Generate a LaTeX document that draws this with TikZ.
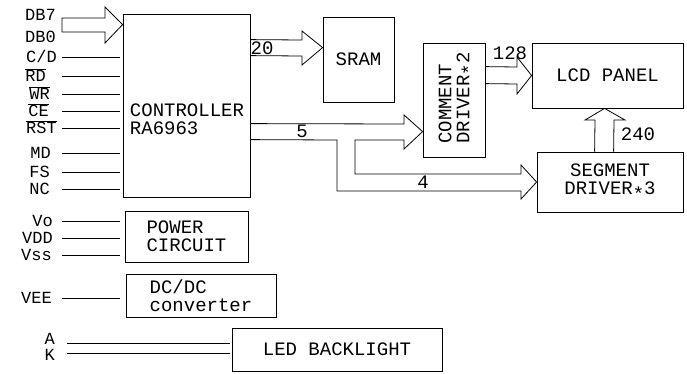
\documentclass[tikz,border=0pt]{standalone}
\usepackage{fontspec}
\setmainfont{Liberation Mono}
\usetikzlibrary{calc}
\newcommand{\ovl}[1]{$\overline{\mbox{#1}}$}
\newcommand{\midstar}{\raisebox{-0.6ex}{*}}
\tikzset{
  blk/.style={draw, line width=0.8pt, inner sep=0pt},
  pin/.style={anchor=east, inner sep=0pt, text height=11pt, text depth=0pt,
    font=\fontsize{17}{17}\selectfont},
  wire/.style={line width=0.8pt},
  bus/.style={line width=0.8pt, line join=miter},
}
\begin{document}
\begin{tikzpicture}[x=1pt, y=-1pt, font=\fontsize{19}{18}\selectfont]
\useasboundingbox (0,0) rectangle (687,373);
% blocks
\node[blk, minimum width=127pt, minimum height=183pt] (ctrl) at (186.5,105.5) {};
\node[align=left] (ctrltxt) at (187,119) {CONTROLLER\\RA6963};
\node[blk, minimum width=71pt, minimum height=85pt] (sram) at (358.5,59.5) {SRAM};
\node[blk, minimum width=62pt, minimum height=114pt] (comm) at (454,100) {};
\node[rotate=90, align=left] (commtxt) at (457,98) {COMMENT\\DRIVER\midstar2};
\node[blk, minimum width=151pt, minimum height=65pt] (lcd) at (607.5,75.5) {LCD PANEL};
\node[blk, minimum width=146pt, minimum height=60pt, align=center] (seg) at (610,182) {SEGMENT\\DRIVER\midstar3};
\node[blk, minimum width=123pt, minimum height=51pt, align=left] (power) at (186.5,236.5) {POWER\\CIRCUIT};
\node[blk, minimum width=150pt, minimum height=43pt, align=left] (dcdc) at (201,295.5) {DC/DC\\converter};
\node[blk, minimum width=210pt, minimum height=43pt] (led) at (337,349.5) {LED BACKLIGHT};
% pin names
\node[pin] (db7) at (56,15) {DB7};
\node[pin] (db0) at (56,37) {DB0};
\node[pin] (cd) at (57,57) {C/D};
\node[pin] (rd) at (46,76) {\ovl{RD}};
\node[pin] (wr) at (50,94) {\ovl{WR}};
\node[pin] (ce) at (49,111) {\ovl{CE}};
\node[pin] (rst) at (57,128) {\ovl{RST}};
\node[pin] (md) at (51,153) {MD};
\node[pin] (fs) at (50,172) {FS};
\node[pin] (nc) at (50,189) {NC};
\node[pin] (vo) at (53,221) {Vo};
\node[pin] (vdd) at (53,238) {VDD};
\node[pin] (vss) at (52,255) {Vss};
\node[pin] (vee) at (52,298) {VEE};
\node[pin] (a) at (55,339) {A};
\node[pin] (k) at (55,355) {K};
\coordinate (lft) at (62,0);
\coordinate (lftb) at (67,0);
% pin wires
\draw[wire] (cd -| lft) -- ([xshift=-3pt]cd -| ctrl.west);
\draw[wire] (rd -| lft) -- ([xshift=-3pt]rd -| ctrl.west);
\draw[wire] (wr -| lft) -- ([xshift=-3pt]wr -| ctrl.west);
\draw[wire] (ce -| lft) -- ([xshift=-3pt]ce -| ctrl.west);
\draw[wire] (rst -| lft) -- ([xshift=-3pt]rst -| ctrl.west);
\draw[wire] (md -| lft) -- ([xshift=-3pt]md -| ctrl.west);
\draw[wire] (fs -| lft) -- ([xshift=-3pt]fs -| ctrl.west);
\draw[wire] (nc -| lft) -- ([xshift=-3pt]nc -| ctrl.west);
\draw[wire] (vo -| lft) -- ([xshift=-5pt]vo -| power.west);
\draw[wire] (vdd -| lft) -- ([xshift=-5pt]vdd -| power.west);
\draw[wire] (vss -| lft) -- ([xshift=-5pt]vss -| power.west);
\draw[wire] (vee -| lft) -- ([xshift=-6pt]vee -| dcdc.west);
\draw[wire] (lftb |- 0,343) -- ([xshift=-2pt]led.west |- 0,343);
\draw[wire] (lftb |- 0,353) -- ([xshift=-2pt]led.west |- 0,353);
% data bus in
\draw[bus] (62,18) -- (105,18) -- (105,7) -- ($(ctrl.north west)+(0,11)$)
  -- (105,43) -- (105,32) -- (62,32) -- cycle;
% to SRAM
\draw[bus] ($(ctrl.north east)+(0,26)$) -- (302,40) -- (302,31) -- ($(sram.north west)+(0,31)$)
  -- (302,65) -- (302,56) -- ($(ctrl.north east)+(0,42)$);
\node (n20) at (262,48) {20};
% to common and segment drivers
\draw[bus] ($(ctrl.north east)+(0,110)$) -- (404,124) -- (404,115) -- ($(comm.north west)+(0,89)$)
  -- (404,149) -- (404,140) -- (355,140) -- (355,174) -- (521,174) -- (521,165) -- (seg.west)
  -- (521,199) -- (521,191) -- (337,191) -- (337,140) -- ($(ctrl.north east)+(0,126)$);
\node (n5) at (302,131) {5};
\node (n4) at (423,182) {4};
% to LCD panel
\draw[bus] ($(comm.north east)+(0,24)$) -- (517,67) -- (517,57) -- (lcd.west)
  -- (517,94) -- (517,84) -- ($(comm.north east)+(0,41)$);
\node (n128) at (510,53) {128};
\draw[bus] ($(seg.north west)+(58,0)$) -- (595,120) -- (585,120) -- ($(lcd.south west)+(73,0)$)
  -- (625,120) -- (614,120) -- ($(seg.north west)+(77,0)$);
\node (n240) at (638,134) {240};
\end{tikzpicture}
\end{document}
